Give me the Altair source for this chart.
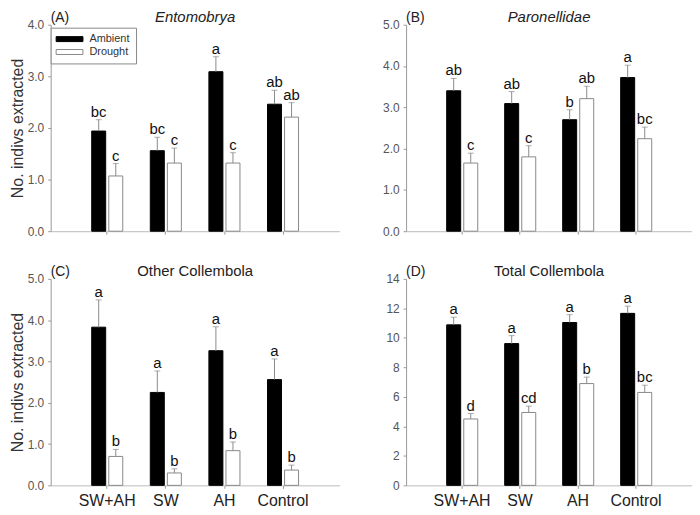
import altair as alt
import pandas as pd

cats = ["SW+AH", "SW", "AH", "Control"]
treatments = ["Ambient", "Drought"]

# Panel A - Entomobrya
a_amb = [1.94, 1.56, 3.09, 2.46]
a_amb_se = [0.22, 0.26, 0.29, 0.27]
a_drt = [1.07, 1.32, 1.32, 2.21]
a_drt_se = [0.24, 0.29, 0.20, 0.28]
a_amb_let = ["bc", "bc", "a", "ab"]
a_drt_let = ["c", "c", "c", "ab"]

# Panel B - Paronellidae
b_amb = [3.40, 3.09, 2.70, 3.72]
b_amb_se = [0.30, 0.29, 0.24, 0.30]
b_drt = [1.65, 1.80, 3.21, 2.24]
b_drt_se = [0.24, 0.27, 0.30, 0.28]
b_amb_let = ["ab", "ab", "b", "a"]
b_drt_let = ["c", "c", "ab", "bc"]

# Panel C - Other Collembola
c_amb = [3.83, 2.25, 3.26, 2.56]
c_amb_se = [0.66, 0.52, 0.58, 0.50]
c_drt = [0.70, 0.30, 0.84, 0.37]
c_drt_se = [0.17, 0.10, 0.21, 0.12]
c_amb_let = ["a", "a", "a", "a"]
c_drt_let = ["b", "b", "b", "b"]

# Panel D - Total Collembola
d_amb = [10.88, 9.61, 11.04, 11.66]
d_amb_se = [0.52, 0.54, 0.53, 0.49]
d_drt = [4.50, 4.94, 6.90, 6.30]
d_drt_se = [0.37, 0.43, 0.44, 0.49]
d_amb_let = ["a", "a", "a", "a"]
d_drt_let = ["d", "cd", "b", "bc"]

FONT = "Liberation Sans"
YTITLE = "No. indivs extracted"
PH = 208


def panel(tag, title, italic, amb, amb_se, drt, drt_se, amb_let, drt_let,
          ymax, yticks, fmt, show_x, show_ytitle, show_legend, w):
    rows = []
    for i, c in enumerate(cats):
        rows.append(dict(cat=c, trt="Ambient", mean=amb[i], top=amb[i] + amb_se[i], let=amb_let[i]))
        rows.append(dict(cat=c, trt="Drought", mean=drt[i], top=drt[i] + drt_se[i], let=drt_let[i]))
    df = pd.DataFrame(rows)
    base = alt.Chart(df)

    x = alt.X("cat:N", sort=cats,
              scale=alt.Scale(paddingInner=0.47, paddingOuter=0.7),
              axis=alt.Axis(title=None, labels=show_x, labelAngle=0,
                            labelFontSize=16, labelColor="#222", labelPadding=4,
                            domainColor="#bbb", tickColor="#999", tickSize=3))
    xo = alt.XOffset("trt:N", sort=treatments, scale=alt.Scale(paddingInner=0.18))
    yaxis = alt.Axis(values=yticks, format=fmt, title=YTITLE if show_ytitle else None,
                     titleFontSize=16, titleFontWeight="normal", titleColor="#333",
                     titlePadding=2, labelFontSize=12, labelColor="#555",
                     labelPadding=4, tickSize=3, domainColor="#999", tickColor="#999",
                     minExtent=22)
    ysc = alt.Scale(domain=[0, ymax], nice=False)

    if show_legend:
        leg = alt.Legend(title=None, orient="none", legendX=0, legendY=3,
                         symbolType="M-1.2,-0.5H4.2V0.5H-1.2Z", symbolSize=100,
                         symbolStrokeWidth=1, labelFontSize=11, labelFont=FONT,
                         labelColor="#333", labelOffset=22, rowPadding=1,
                         padding=6, strokeColor="#888", fillColor="white")
    else:
        leg = None

    bars = base.mark_bar(strokeWidth=1).encode(
        x=x, xOffset=xo,
        y=alt.Y("mean:Q", scale=ysc, axis=yaxis),
        fill=alt.Fill("trt:N", sort=treatments,
                      scale=alt.Scale(domain=treatments, range=["#000000", "#ffffff"]),
                      legend=leg),
        stroke=alt.Stroke("trt:N", sort=treatments,
                          scale=alt.Scale(domain=treatments, range=["#000000", "#888888"]),
                          legend=leg),
    )
    err = base.mark_rule(color="#8a8a8a", strokeWidth=1).encode(
        x=x, xOffset=xo, y=alt.Y("mean:Q", scale=ysc, axis=yaxis), y2="top:Q")
    cap = base.mark_tick(color="#8a8a8a", size=6, thickness=1).encode(
        x=x, xOffset=xo, y=alt.Y("top:Q", scale=ysc, axis=yaxis))
    txt = base.mark_text(baseline="alphabetic", dy=-3, fontSize=15, font=FONT,
                         color="#111").encode(
        x=x, xOffset=xo, y=alt.Y("top:Q", scale=ysc, axis=yaxis), text="let:N")
    hdr = pd.DataFrame({"tag": [tag], "title": [title]})
    lab = alt.Chart(hdr).mark_text(
        align="left", baseline="alphabetic", fontSize=14, font=FONT, color="#222"
    ).encode(x=alt.value(0), y=alt.value(-3), text="tag:N")
    ttl = alt.Chart(hdr).mark_text(
        align="center", baseline="alphabetic", fontSize=15, font=FONT, color="#222",
        fontStyle="italic" if italic else "normal"
    ).encode(x=alt.value(w / 2), y=alt.value(-3), text="title:N")

    return alt.layer(bars, err, cap, txt, lab, ttl).properties(width=w, height=PH)


pA = panel("(A)", "Entomobrya", True, a_amb, a_amb_se, a_drt, a_drt_se, a_amb_let, a_drt_let,
           4.0, [0, 1, 2, 3, 4], ".1f", False, True, True, 291)
pB = panel("(B)", "Paronellidae", True, b_amb, b_amb_se, b_drt, b_drt_se, b_amb_let, b_drt_let,
           5.0, [0, 1, 2, 3, 4, 5], ".1f", False, False, False, 288)
pC = panel("(C)", "Other Collembola", False, c_amb, c_amb_se, c_drt, c_drt_se, c_amb_let, c_drt_let,
           5.0, [0, 1, 2, 3, 4, 5], ".1f", True, True, False, 291)
pD = panel("(D)", "Total Collembola", False, d_amb, d_amb_se, d_drt, d_drt_se, d_amb_let, d_drt_let,
           14, [0, 2, 4, 6, 8, 10, 12, 14], "d", True, False, False, 288)

chart = alt.concat(pA, pB, pC, pD, columns=2, spacing={"row": 27, "column": 43}).resolve_scale(
    fill="independent", stroke="independent", y="independent"
).resolve_legend(fill="independent", stroke="independent").properties(
    padding={"left": 1, "top": 0, "right": 0, "bottom": 0}
).configure_view(stroke=None).configure_axis(
    grid=False, labelFont=FONT, titleFont=FONT
).configure_text(font=FONT)

chart.save("out.html", embed_options={"renderer": "svg", "actions": False})
